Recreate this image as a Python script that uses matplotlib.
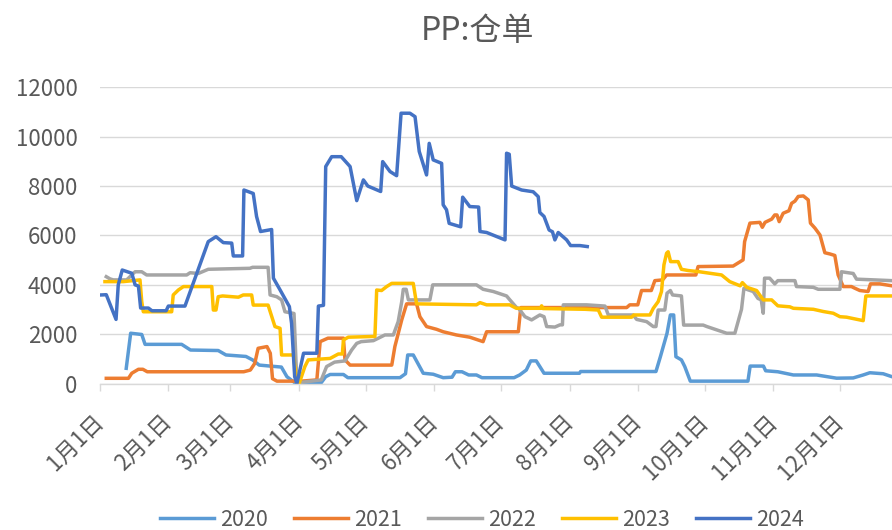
import matplotlib
matplotlib.use("Agg")
from matplotlib import pyplot as plt

plt.rcParams['font.family'] = ['Noto Sans CJK SC', 'DejaVu Sans']

# (day of year, warehouse receipts)
s2020 = [(12, 620), (14, 2040), (19, 1990), (20.5, 1590), (37, 1590), (41, 1360),
         (53.5, 1340), (57, 1160), (66, 1100), (69, 960), (72, 750), (82, 670),
         (84.5, 280), (88, 40), (100, 40), (102, 280), (104, 370), (110, 370),
         (112, 240), (135.5, 240), (138, 400), (139, 1160), (141.5, 1160), (146, 420),
         (150.5, 380), (155, 240), (159, 260), (160.5, 480), (163.5, 480), (166.5, 350),
         (170, 350), (172.5, 240), (187, 240), (189.5, 350), (192.5, 550), (194.5, 920),
         (197, 920), (200.5, 420), (216.5, 420), (217, 490), (251, 490), (253, 1090),
         (256, 2040), (257.5, 2780), (259, 2780), (260, 1090), (262.5, 960), (264, 690),
         (266.5, 100), (292.5, 100), (293.5, 710), (299.5, 710), (300.5, 520), (306, 480),
         (313, 350), (323.5, 350), (332.5, 220), (340, 230), (344.5, 350), (347.5, 440),
         (353.5, 400), (357.5, 280)]

s2021 = [(3, 215), (13, 215), (14.5, 420), (17.5, 580), (19.5, 580), (21.5, 480),
         (65, 480), (68, 550), (70, 820), (71.5, 1430), (75.5, 1500), (77, 1230),
         (78, 200), (80, 100), (91, 100), (98, 150), (99.5, 1700), (103, 1840),
         (110, 1840), (110.7, 960), (113, 750), (131.8, 750), (133.2, 1500), (136.3, 2580),
         (138.5, 3230), (143, 3230), (144.5, 2710), (147.5, 2310), (152, 2200), (155, 2100),
         (161, 1970), (167, 1880), (173, 1700), (174.6, 2100), (188.9, 2100), (190, 3080),
         (237.8, 3080), (239.2, 3190), (242.8, 3190), (244.5, 3770), (248.9, 3770),
         (250.5, 4170), (254, 4200), (255.8, 4400), (269, 4400), (270, 4740), (285.8, 4760),
         (290.3, 5010), (291, 5750), (293.4, 6500), (297.9, 6530), (299, 6330), (300.2, 6530),
         (303.2, 6660), (304.6, 6830), (305.6, 6830), (306.6, 6560), (308.4, 6900),
         (311, 7000), (312.2, 7300), (313.7, 7390), (315.2, 7580), (317.5, 7600),
         (319.7, 7440), (320.7, 6500), (322.7, 6300), (325, 6020), (327.2, 5300),
         (329.5, 5250), (331.7, 5190), (333.2, 4400), (335.5, 3930), (339.2, 3930),
         (340.8, 3860), (343, 3770), (346.7, 3730), (347.8, 4040), (352, 4040), (357.5, 3960)]

s2022 = [(3, 4330), (4.7, 4240), (6.2, 4200), (12.2, 4200), (16, 4530), (19, 4530),
         (21.2, 4400), (39.3, 4400), (40.8, 4490), (44.5, 4460), (49, 4630), (67.8, 4670),
         (69, 4710), (76, 4710), (76.9, 3590), (79.9, 3520), (82.1, 3390), (83.6, 2910),
         (87.7, 2840), (89, 30), (100, 150), (102.4, 690), (106, 870), (110.7, 920),
         (113.7, 1360), (116, 1630), (118, 1700), (123.5, 1740), (128.7, 1970), (132.5, 1970),
         (134.7, 2510), (136.3, 3320), (137, 3820), (138.3, 3820), (139.3, 3390), (149, 3390),
         (150.3, 4000), (170, 4000), (173, 3820), (177.6, 3730), (183.6, 3550), (185.1, 3390),
         (188, 3090), (189, 3050), (191.9, 2710), (194.9, 2580), (198.6, 2780), (200.5, 2710),
         (201.7, 2310), (205.4, 2290), (207.7, 2380), (208.8, 2380), (209.2, 3190),
         (219.7, 3190), (228, 3140), (229.5, 2780), (240.7, 2780), (242.3, 2600),
         (246.8, 2510), (249.8, 2310), (251, 2310), (252, 2980), (255, 2980), (256, 3660),
         (257.5, 3770), (258.5, 3590), (262.5, 3550), (263.5, 2370), (272.3, 2370),
         (274, 2310), (282.9, 2040), (286.6, 2040), (289.6, 3010), (290.7, 3860),
         (292.5, 3800), (294.9, 3730), (297, 3450), (298.5, 3390), (299.4, 2850), (300, 4270),
         (302.3, 4270), (304.6, 4040), (306, 4170), (313.7, 4170), (314.4, 3930), (322, 3900),
         (324.2, 3820), (334, 3820), (334.7, 4530), (340, 4460), (341.5, 4230), (357.5, 4170)]

s2023 = [(2.4, 4130), (10.7, 4130), (18.2, 4200), (19, 3320), (19.7, 2910), (32.5, 2910),
         (33.2, 3590), (35.5, 3790), (37.8, 3930), (50.6, 3930), (51.3, 2980), (52.5, 2980),
         (53.5, 3520), (55.5, 3550), (62.6, 3500), (64.8, 3590), (68.6, 3590), (69.3, 3180),
         (76, 3180), (79.1, 2310), (81.4, 2240), (82.1, 1160), (87.4, 1160), (88.9, 150),
         (90, 0), (92.6, 690), (94.1, 960), (104, 1020), (107.7, 1200), (109.5, 1200),
         (110, 1770), (112.2, 1880), (124.2, 1910), (125, 3790), (127.2, 3770), (129.5, 3930),
         (131.8, 4060), (141.5, 4060), (143, 3230), (170, 3190), (171.6, 3280), (174.6, 3190),
         (185, 3190), (188, 3050), (199, 3050), (199.4, 3150), (200, 3040), (219, 3010),
         (225, 2980), (226.5, 2690), (240, 2690), (241, 2780), (248.3, 2780), (249.8, 3050),
         (252, 3320), (253.5, 3730), (254.6, 4810), (255.8, 5280), (256.5, 5340),
         (257.6, 4940), (261, 4940), (262.5, 4630), (265.5, 4580), (270.6, 4530),
         (280.6, 4400), (284.3, 4130), (289, 3960), (290, 4090), (292, 3900), (296.4, 3770),
         (299.4, 3390), (303.2, 3390), (306, 3150), (311.4, 3110), (313, 3050), (322, 3010),
         (326.5, 2920), (331, 2850), (334, 2710), (337, 2690), (344.5, 2550), (345.7, 3550),
         (357.5, 3550)]

s2024 = [(0.5, 3590), (3, 3600), (7.4, 2600), (8.4, 4000), (10.2, 4600), (14.5, 4470),
         (16, 4000), (17.5, 3950), (18.5, 3060), (22, 3060), (23.6, 2950), (30, 2950),
         (31, 3140), (38.5, 3140), (49, 5750), (52.5, 5950), (55.8, 5710), (59.6, 5690),
         (60.3, 5170), (64.5, 5170), (65.1, 7840), (69.3, 7700), (70.8, 6770), (72.6, 6160),
         (77.6, 6240), (78.4, 4270), (81, 3860), (85.6, 3120), (86.6, 2440), (88, 280),
         (89, 0), (92, 1230), (98, 1230), (98.7, 3140), (101, 3170), (102, 8790),
         (104.7, 9190), (109, 9190), (113, 8790), (116, 7410), (119, 8250), (121, 8000),
         (126.8, 7780), (127.7, 8990), (131, 8590), (134, 8420), (136, 10950), (140, 10950),
         (142.3, 10810), (144.2, 9400), (147.5, 8450), (148.7, 9730), (150.5, 9060),
         (154.3, 8920), (155, 7240), (156.5, 7040), (157.7, 6490), (162.9, 6350),
         (163.8, 7550), (167, 7170), (171, 7150), (171.6, 6160), (174.6, 6120), (182.9, 5820),
         (183.6, 9330), (184.8, 9290), (185.9, 8000), (190.4, 7840), (195.6, 7770),
         (197.9, 7570), (198.6, 6930), (200.5, 6770), (202.8, 6220), (204.3, 6150),
         (205.4, 5820), (206.9, 6120), (210.7, 5820), (212.5, 5590), (216.7, 5590), (220, 5550)]

years = ['2020', '2021', '2022', '2023', '2024']
colors = ['#5B9BD5', '#ED7D31', '#A5A5A5', '#FFC000', '#4472C4']
month_days = [0, 31, 59, 90, 120, 151, 181, 212, 243, 273, 304, 334]
month_labels = ['%d月1日' % m for m in range(1, 13)]

fig = plt.figure(figsize=(8.92, 5.30), dpi=100)
ax = fig.add_axes([0.1117, 0.2762, 0.8883, 0.5591])

for name, series, c in zip(years, [s2020, s2021, s2022, s2023, s2024], colors):
	xs = [p[0] for p in series]
	ys = [p[1] for p in series]
	ax.plot(xs, ys, color=c, lw=2.5, label=name, solid_joinstyle='round')

ax.set_xlim(0, 357.5)
ax.set_ylim(0, 12000)
ax.set_yticks(range(0, 12001, 2000))
ax.grid(axis='y', color='#D9D9D9', lw=1)
ax.set_axisbelow(True)
for s in ['top', 'right', 'left']:
	ax.spines[s].set_visible(False)
ax.spines['bottom'].set_color('#D9D9D9')
ax.spines['bottom'].set_linewidth(1)

ax.set_xticks(month_days)
ax.set_xticklabels(month_labels, rotation=45, ha='right', va='center',
                   rotation_mode='anchor')
ax.tick_params(axis='x', length=5, color='#D9D9D9', width=1, pad=20,
               labelsize=16, labelcolor='#595959')
ax.tick_params(axis='y', length=0, pad=16, labelsize=16, labelcolor='#595959')

fig.text(478/892, 1 - 31/530, 'PP:仓单', ha='center', va='center',
         fontsize=23, color='#595959')

fig.legend(loc='center', bbox_to_anchor=(482/892, 1 - 520/530), ncol=5,
           frameon=False, fontsize=15.5, handlelength=2.5, handletextpad=0.3,
           columnspacing=1.2, labelcolor='#595959')

fig.savefig('out.png', dpi=100)
